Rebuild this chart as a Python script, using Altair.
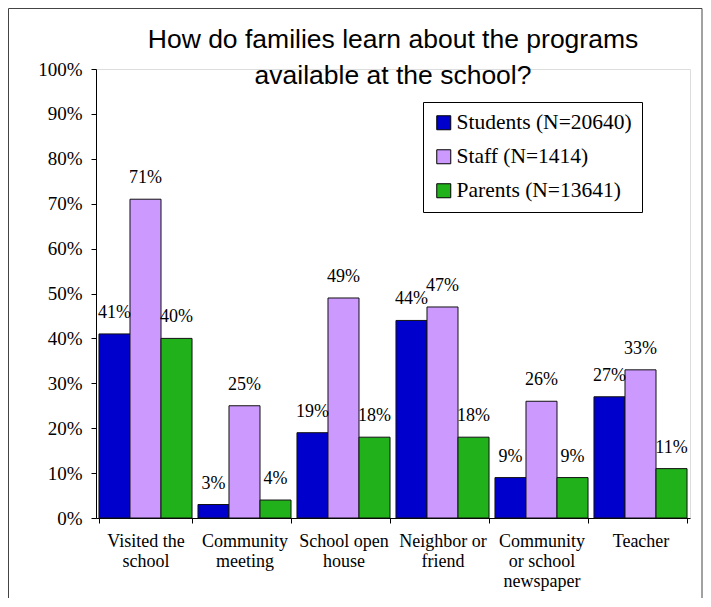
import altair as alt
import pandas as pd

categories = ["Visited the|school", "Community|meeting", "School open|house",
              "Neighbor or|friend", "Community|or school|newspaper", "Teacher"]
groups = ["Students (N=20640)", "Staff (N=1414)", "Parents (N=13641)"]
students = [41, 3, 19, 44, 9, 27]
staff = [71, 25, 49, 47, 26, 33]
parents = [40, 4, 18, 18, 9, 11]
colors = ["#0000CC", "#CC99FF", "#21B21B"]
title_lines = ["How do families learn about the programs", "available at the school?"]

rows = []
for series, vals in zip(groups, [students, staff, parents]):
    for cat, v in zip(categories, vals):
        rows.append({"category": cat, "group": series, "value": v / 100})
df = pd.DataFrame(rows)

SERIF = "Liberation Serif"

x_enc = alt.X("category:N", sort=categories,
              scale=alt.Scale(paddingInner=0.06, paddingOuter=0.03),
              axis=alt.Axis(title=None, labelAngle=0, labelExpr="split(datum.label, '|')",
                            labelFont=SERIF, labelFontSize=18, labelLineHeight=20,
                            labelPadding=9, tickSize=5, tickBand="extent",
                            domainColor="black", tickColor="black", labelColor="black",
                            grid=False))
xoff = alt.XOffset("group:N", sort=groups, scale=alt.Scale(paddingInner=0, paddingOuter=0))
y_enc = alt.Y("value:Q", scale=alt.Scale(domain=[0, 1], nice=False),
              axis=alt.Axis(title=None, values=[i / 10 for i in range(11)], format=".0%",
                            labelFont=SERIF, labelFontSize=19, tickSize=5, labelPadding=9,
                            domainColor="black", tickColor="black", labelColor="black",
                            grid=False))

bars = alt.Chart(df).mark_bar(stroke="#111111", strokeWidth=1).encode(
    x=x_enc, xOffset=xoff, y=y_enc,
    color=alt.Color("group:N", sort=groups,
                    scale=alt.Scale(domain=groups, range=colors),
                    legend=alt.Legend(orient="none", legendX=327, legendY=33, title=None,
                                      labelFont=SERIF, labelFontSize=21.5, labelColor="black",
                                      labelLimit=400,
                                      symbolType="square", symbolSize=196,
                                      symbolStrokeColor="black", symbolStrokeWidth=1,
                                      padding=10, strokeColor="black", fillColor="white",
                                      rowPadding=11, labelOffset=2)),
)

labels = alt.Chart(df).mark_text(font=SERIF, fontSize=18, dy=-16, baseline="alphabetic",
                                 color="black").encode(
    x=alt.X("category:N", sort=categories), xOffset=xoff, y="value:Q",
    text=alt.Text("value:Q", format=".0%"),
)

frame = alt.Chart(pd.DataFrame({"a": [0]})).mark_rect(
    fillOpacity=0, stroke="#444444", strokeWidth=1).encode(
    x=alt.value(-87.5), x2=alt.value(606), y=alt.value(-60.5), y2=alt.value(700))

chart = alt.layer(frame, bars, labels).properties(
    width=594, height=449,
    title=alt.TitleParams(title_lines, font="Liberation Sans", fontSize=26.5,
                          fontWeight="normal", lineHeight=36, offset=-81,
                          anchor="middle", color="black"),
    autosize=alt.AutoSizeParams(type="none"),
    padding={"left": 88, "top": 61, "right": 13, "bottom": 80},
).configure_view(stroke=None).configure(background="white")

chart.save("out.html", embed_options={"renderer": "svg", "actions": False})
